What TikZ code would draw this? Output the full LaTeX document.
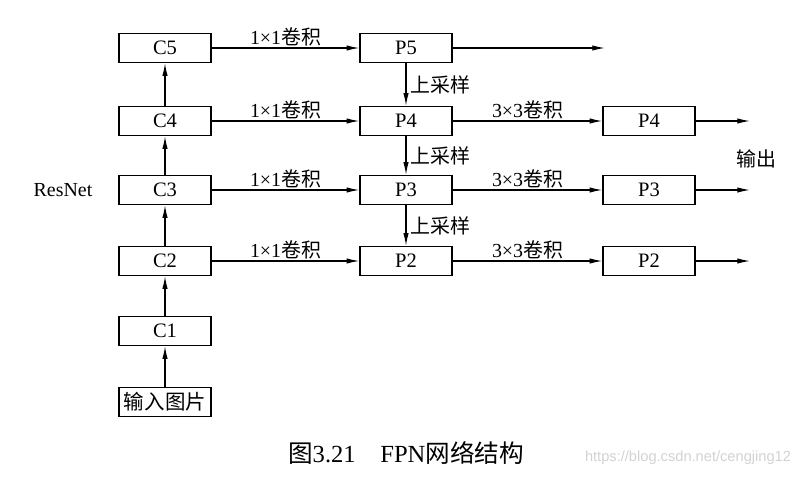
\documentclass[tikz,border=0pt]{standalone}
\usepackage{fontspec}
\setmainfont{Liberation Serif}
\setsansfont{Liberation Sans}
\newfontfamily\cjk{Noto Sans CJK SC}
\usetikzlibrary{arrows.meta,positioning}

\tikzstyle{block} = [rectangle, draw, line width=1.1pt, minimum width=27.6mm, minimum height=8.7mm, inner sep=0pt, font=\fontsize{17.5}{20}\selectfont]
\tikzstyle{lab} = [font=\fontsize{17}{20}\selectfont, inner sep=1.5pt]
\tikzstyle{arr} = [-{Latex[length=3.8mm,width=1.6mm]}, line width=1pt]

\begin{document}
\begin{tikzpicture}[x=0.3mm,y=0.3mm]
\useasboundingbox (0,0) rectangle (812,478);
% backbone
\node [block] (in) at (165,76) {\cjk 输入图片};
\node [block] (c1) at (165,147) {C1};
\node [block] (c2) at (165,217) {C2};
\node [block] (c3) at (165,288) {C3};
\node [block] (c4) at (165,357) {C4};
\node [block] (c5) at (165,430) {C5};
\node [lab] (resnet) at (63,288) {ResNet};
% top-down path
\node [block] (p5) at (406,430) {P5};
\node [block] (p4) at (406,357) {P4};
\node [block] (p3) at (406,288) {P3};
\node [block] (p2) at (406,217) {P2};
% outputs
\node [block] (q4) at (649,357) {P4};
\node [block] (q3) at (649,288) {P3};
\node [block] (q2) at (649,217) {P2};
\coordinate (o5) at (605,430);
\coordinate (o4) at (750,357);
\coordinate (o3) at (750,288);
\coordinate (o2) at (750,217);
\node [lab] (out) at (756,319) {\cjk 输出};

\draw [arr] (in) -- (c1);
\draw [arr] (c1) -- (c2);
\draw [arr] (c2) -- (c3);
\draw [arr] (c3) -- (c4);
\draw [arr] (c4) -- (c5);

\draw [arr] (c5) -- node[lab,above] {1×1{\cjk 卷积}} (p5);
\draw [arr] (c4) -- node[lab,above] {1×1{\cjk 卷积}} (p4);
\draw [arr] (c3) -- node[lab,above] {1×1{\cjk 卷积}} (p3);
\draw [arr] (c2) -- node[lab,above] {1×1{\cjk 卷积}} (p2);

\draw [arr] (p5) -- node[lab,right,xshift=2pt] {\cjk 上采样} (p4);
\draw [arr] (p4) -- node[lab,right,xshift=2pt] {\cjk 上采样} (p3);
\draw [arr] (p3) -- node[lab,right,xshift=2pt] {\cjk 上采样} (p2);

\draw [arr] (p4) -- node[lab,above] {3×3{\cjk 卷积}} (q4);
\draw [arr] (p3) -- node[lab,above] {3×3{\cjk 卷积}} (q3);
\draw [arr] (p2) -- node[lab,above] {3×3{\cjk 卷积}} (q2);

\draw [arr] (p5) -- (o5);
\draw [arr] (q4) -- (o4);
\draw [arr] (q3) -- (o3);
\draw [arr] (q2) -- (o2);

\node [font=\fontsize{21}{25}\selectfont] (caption) at (406,25) {{\cjk 图}3.21\quad FPN{\cjk 网络结构}};
\node [font=\sffamily\fontsize{12.5}{15}\selectfont, text=gray!35] (mark) at (688,20) {https://blog.csdn.net/cengjing12};
\end{tikzpicture}
\end{document}
